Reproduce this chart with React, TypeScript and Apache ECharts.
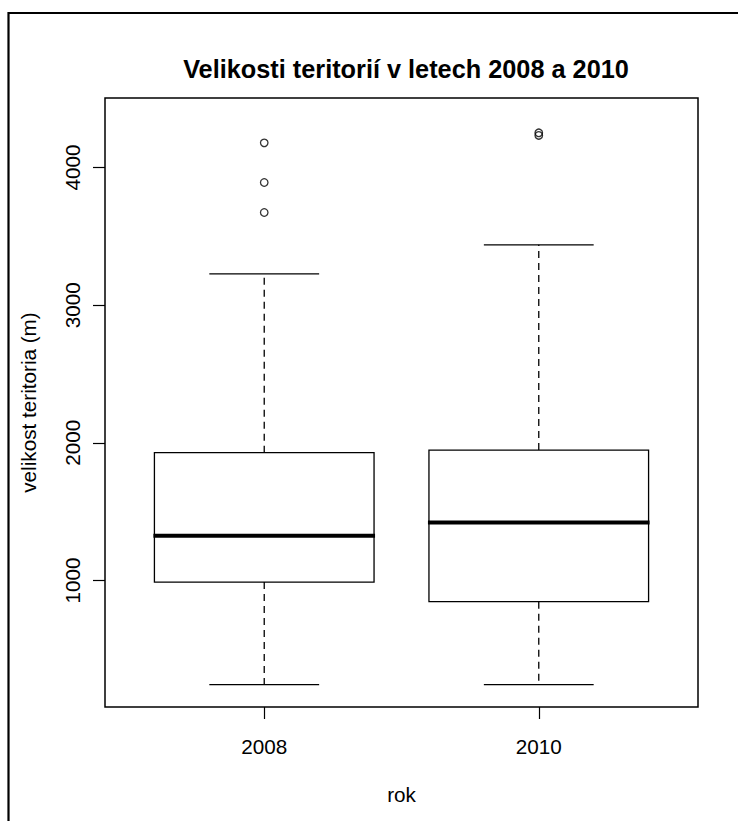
import React, { useEffect, useRef } from "react";
import * as echarts from "echarts";

const categories = ["2008", "2010"];
const positions = [1, 2];
const lowerWhisker = [242, 242];
const q1 = [988, 845];
const median = [1325, 1421];
const q3 = [1928, 1947];
const upperWhisker = [3227, 3438];
const outliers2008 = [3673, 3891, 4179];
const outliers2010 = [4233, 4252];
const yTicks = [1000, 2000, 3000, 4000];

const FONT = '"Liberation Sans", Arial, Helvetica, sans-serif';

export default function App() {
  const ref = useRef<HTMLDivElement>(null);
  useEffect(() => {
    if (!ref.current) return;
    const chart = echarts.init(ref.current, null, { renderer: "svg" });
    const boxData = positions.map((p, i) => [p, lowerWhisker[i], q1[i], median[i], q3[i], upperWhisker[i]]);
    const outlierData: number[][] = [];
    outliers2008.forEach((v) => outlierData.push([positions[0], v]));
    outliers2010.forEach((v) => outlierData.push([positions[1], v]));

    chart.setOption({
      animation: false,
      backgroundColor: "#fff",
      textStyle: { fontFamily: FONT },
      title: {
        text: "Velikosti teritorií v letech 2008 a 2010",
        left: 401,
        top: 51,
        textAlign: "center",
        textStyle: { fontFamily: FONT, fontSize: 25.3, fontWeight: "bold", color: "#000" },
      },
      grid: {
        left: 105,
        right: 40,
        top: 98,
        bottom: 114,
        show: true,
        borderColor: "#000",
        borderWidth: 1.5,
        backgroundColor: "transparent",
      },
      xAxis: {
        type: "value",
        min: 0.42,
        max: 2.58,
        name: "rok",
        nameLocation: "middle",
        nameGap: 77,
        nameTextStyle: { fontFamily: FONT, fontSize: 20.7, color: "#000", verticalAlign: "top" },
        axisLine: { show: false },
        splitLine: { show: false },
        axisTick: {
          show: true,
          inside: false,
          length: 12,
          customValues: positions,
          lineStyle: { color: "#000", width: 1.2 },
        },
        axisLabel: {
          show: true,
          margin: 29,
          customValues: positions,
          fontFamily: FONT,
          fontSize: 20.7,
          color: "#000",
          formatter: (v: number) => categories[positions.indexOf(v)] ?? "",
        },
      },
      yAxis: {
        type: "value",
        min: 80,
        max: 4505,
        name: "velikost teritoria (m)",
        nameLocation: "middle",
        nameRotate: 90,
        nameGap: 66,
        nameTextStyle: { fontFamily: FONT, fontSize: 20.7, color: "#000" },
        axisLine: { show: false },
        splitLine: { show: false },
        axisTick: {
          show: true,
          inside: false,
          length: 12,
          customValues: yTicks,
          lineStyle: { color: "#000", width: 1.2 },
        },
        axisLabel: {
          show: true,
          rotate: 90,
          margin: 22,
          customValues: yTicks,
          fontFamily: FONT,
          fontSize: 20.7,
          color: "#000",
          formatter: (v: number) => String(v),
        },
      },
      graphic: [
        {
          type: "rect",
          silent: true,
          z: 100,
          shape: { x: 8.5, y: 13, width: 900, height: 900 },
          style: { fill: "none", stroke: "#000", lineWidth: 2.2 },
        },
      ],
      series: [
        {
          type: "custom",
          data: boxData,
          encode: { x: 0, y: [1, 2, 3, 4, 5] },
          renderItem: (params: any, api: any) => {
            const x = api.value(0);
            const pLow = api.coord([x, api.value(1)]);
            const pQ1 = api.coord([x, api.value(2)]);
            const pMed = api.coord([x, api.value(3)]);
            const pQ3 = api.coord([x, api.value(4)]);
            const pHigh = api.coord([x, api.value(5)]);
            const halfBox = api.size([0.4, 0])[0];
            const halfStaple = api.size([0.2, 0])[0];
            const cx = pMed[0];
            const lineStyle = { stroke: "#000", lineWidth: 1.3, fill: "none" };
            const dashStyle = { stroke: "#000", lineWidth: 1.3, lineDash: [7, 5], fill: "none" };
            return {
              type: "group",
              children: [
                {
                  type: "line",
                  shape: { x1: cx, y1: pQ3[1], x2: cx, y2: pHigh[1] },
                  style: dashStyle,
                },
                {
                  type: "line",
                  shape: { x1: cx, y1: pQ1[1], x2: cx, y2: pLow[1] },
                  style: dashStyle,
                },
                {
                  type: "line",
                  shape: { x1: cx - halfStaple, y1: pHigh[1], x2: cx + halfStaple, y2: pHigh[1] },
                  style: lineStyle,
                },
                {
                  type: "line",
                  shape: { x1: cx - halfStaple, y1: pLow[1], x2: cx + halfStaple, y2: pLow[1] },
                  style: lineStyle,
                },
                {
                  type: "rect",
                  shape: { x: cx - halfBox, y: pQ3[1], width: halfBox * 2, height: pQ1[1] - pQ3[1] },
                  style: { stroke: "#000", lineWidth: 1.3, fill: "#fff" },
                },
                {
                  type: "line",
                  shape: { x1: cx - halfBox - 1, y1: pMed[1], x2: cx + halfBox + 1, y2: pMed[1] },
                  style: { stroke: "#000", lineWidth: 4, fill: "none" },
                },
              ],
            };
          },
        },
        {
          type: "scatter",
          data: outlierData,
          symbol: "circle",
          symbolSize: 7.5,
          itemStyle: { color: "rgba(0,0,0,0)", borderColor: "#000", borderWidth: 1.3 },
          z: 3,
        },
      ],
    });
    return () => chart.dispose();
  }, []);
  return (
    <div
      ref={ref}
      style={{ position: "fixed", left: 0, top: 0, width: 738, height: 821, background: "#fff" }}
    />
  );
}
